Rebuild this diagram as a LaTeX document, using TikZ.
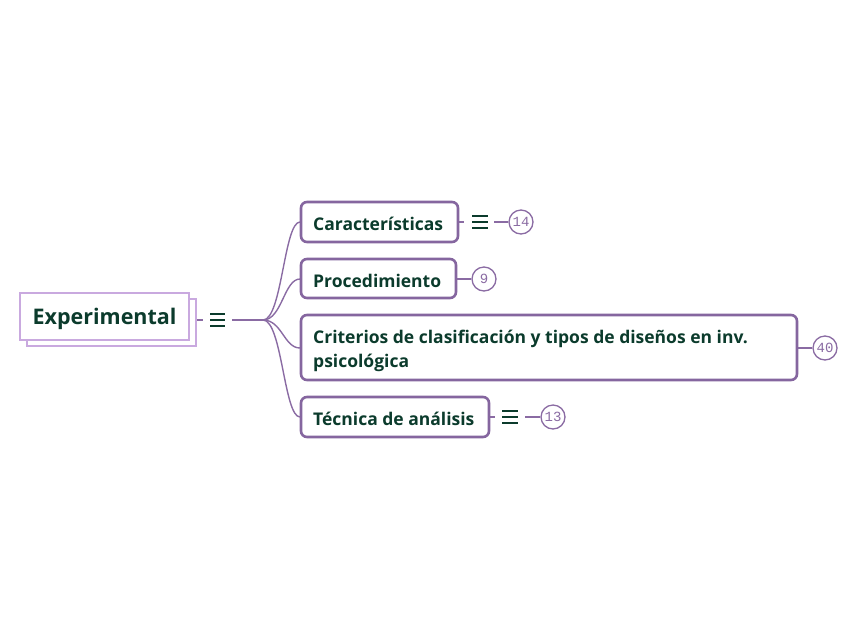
\documentclass[tikz,border=0pt]{standalone}
\usepackage{fontspec}
\setmainfont{Open Sans}
\newfontfamily\numfont{Liberation Mono}
\definecolor{txtgreen}{HTML}{0B3B2C}
\definecolor{bordpurple}{HTML}{85669F}
\definecolor{rootpurple}{HTML}{C9A9DF}
\definecolor{linepurple}{HTML}{8A6BA3}
\begin{document}
\begin{tikzpicture}[x=1pt,y=-1pt,
  childbox/.style={draw=bordpurple,line width=2.6pt,rounded corners=6pt,fill=white},
  rootbox/.style={draw=rootpurple,line width=2.6pt,fill=white},
  childtext/.style={text=txtgreen,font=\bfseries\fontsize{17.5}{24}\selectfont,anchor=west,inner sep=0pt,align=left},
  conn/.style={draw=linepurple,line width=1.4pt},
  count/.style={circle,draw=linepurple,line width=1.3pt,minimum size=24pt,inner sep=0pt,fill=white,text=linepurple,font=\numfont\fontsize{14}{14}\selectfont},
  menuic/.style={draw=txtgreen,line width=1.6pt}
]
\useasboundingbox (0,0) rectangle (848,638);
% root
\draw[rootbox] (27,299) rectangle (196,346);
\draw[rootbox] (20,293) rectangle (189,340);
\node[text=txtgreen,font=\bfseries\fontsize{21.5}{24}\selectfont,inner sep=0pt] (root) at (104.5,318.5) {Experimental};
\coordinate (rootR) at (197,320);
% root menu icon
\draw[conn] (rootR) -- (203,320);
\foreach \yy in {314,320,326} \draw[menuic] (210,\yy) -- (225,\yy);
\coordinate (hubA) at (232,320);
\coordinate (hub) at (263,320);
\draw[conn] (hubA) -- (hub);
% children boxes
\draw[childbox] (301,202) rectangle (458,242);
\node[childtext] (c1) at (313,223.5) {Características};
\draw[childbox] (301,259) rectangle (456,298);
\node[childtext] (c2) at (313,280.5) {Procedimiento};
\draw[childbox] (301,315) rectangle (797,380);
\node[childtext] (c3) at (313,350.5) {Criterios de clasificación y tipos de diseños en inv.\\psicológica};
\draw[childbox] (301,397) rectangle (489,437);
\node[childtext] (c4) at (313,418.5) {Técnica de análisis};
% left connection points
\coordinate (l1) at (300,222);
\coordinate (l2) at (300,279);
\coordinate (l3) at (300,348);
\coordinate (l4) at (300,417);
\draw[conn] (hub) .. controls (282,320) and (284,222) .. (l1);
\draw[conn] (hub) .. controls (282,320) and (284,279) .. (l2);
\draw[conn] (hub) .. controls (282,320) and (284,348) .. (l3);
\draw[conn] (hub) .. controls (282,320) and (284,417) .. (l4);
% counts
\node[count] (n1) at (521,222) {14};
\node[count] (n2) at (484,279) {9};
\node[count] (n3) at (825,348) {40};
\node[count] (n4) at (553,417) {13};
% child 1 icon + link
\coordinate (r1) at (459,222);
\draw[conn] (r1) -- (464,222);
\foreach \yy in {216,222,228} \draw[menuic] (472,\yy) -- (488,\yy);
\coordinate (i1) at (494,222);
\draw[conn] (i1) -- (n1);
% child 2 link
\coordinate (r2) at (457,279);
\draw[conn] (r2) -- (n2);
% child 3 link
\coordinate (r3) at (798,348);
\draw[conn] (r3) -- (n3);
% child 4 icon + link
\coordinate (r4) at (490,417);
\draw[conn] (r4) -- (495,417);
\foreach \yy in {411,417,423} \draw[menuic] (502,\yy) -- (518,\yy);
\coordinate (i4) at (525,417);
\draw[conn] (i4) -- (n4);
\end{tikzpicture}
\end{document}
